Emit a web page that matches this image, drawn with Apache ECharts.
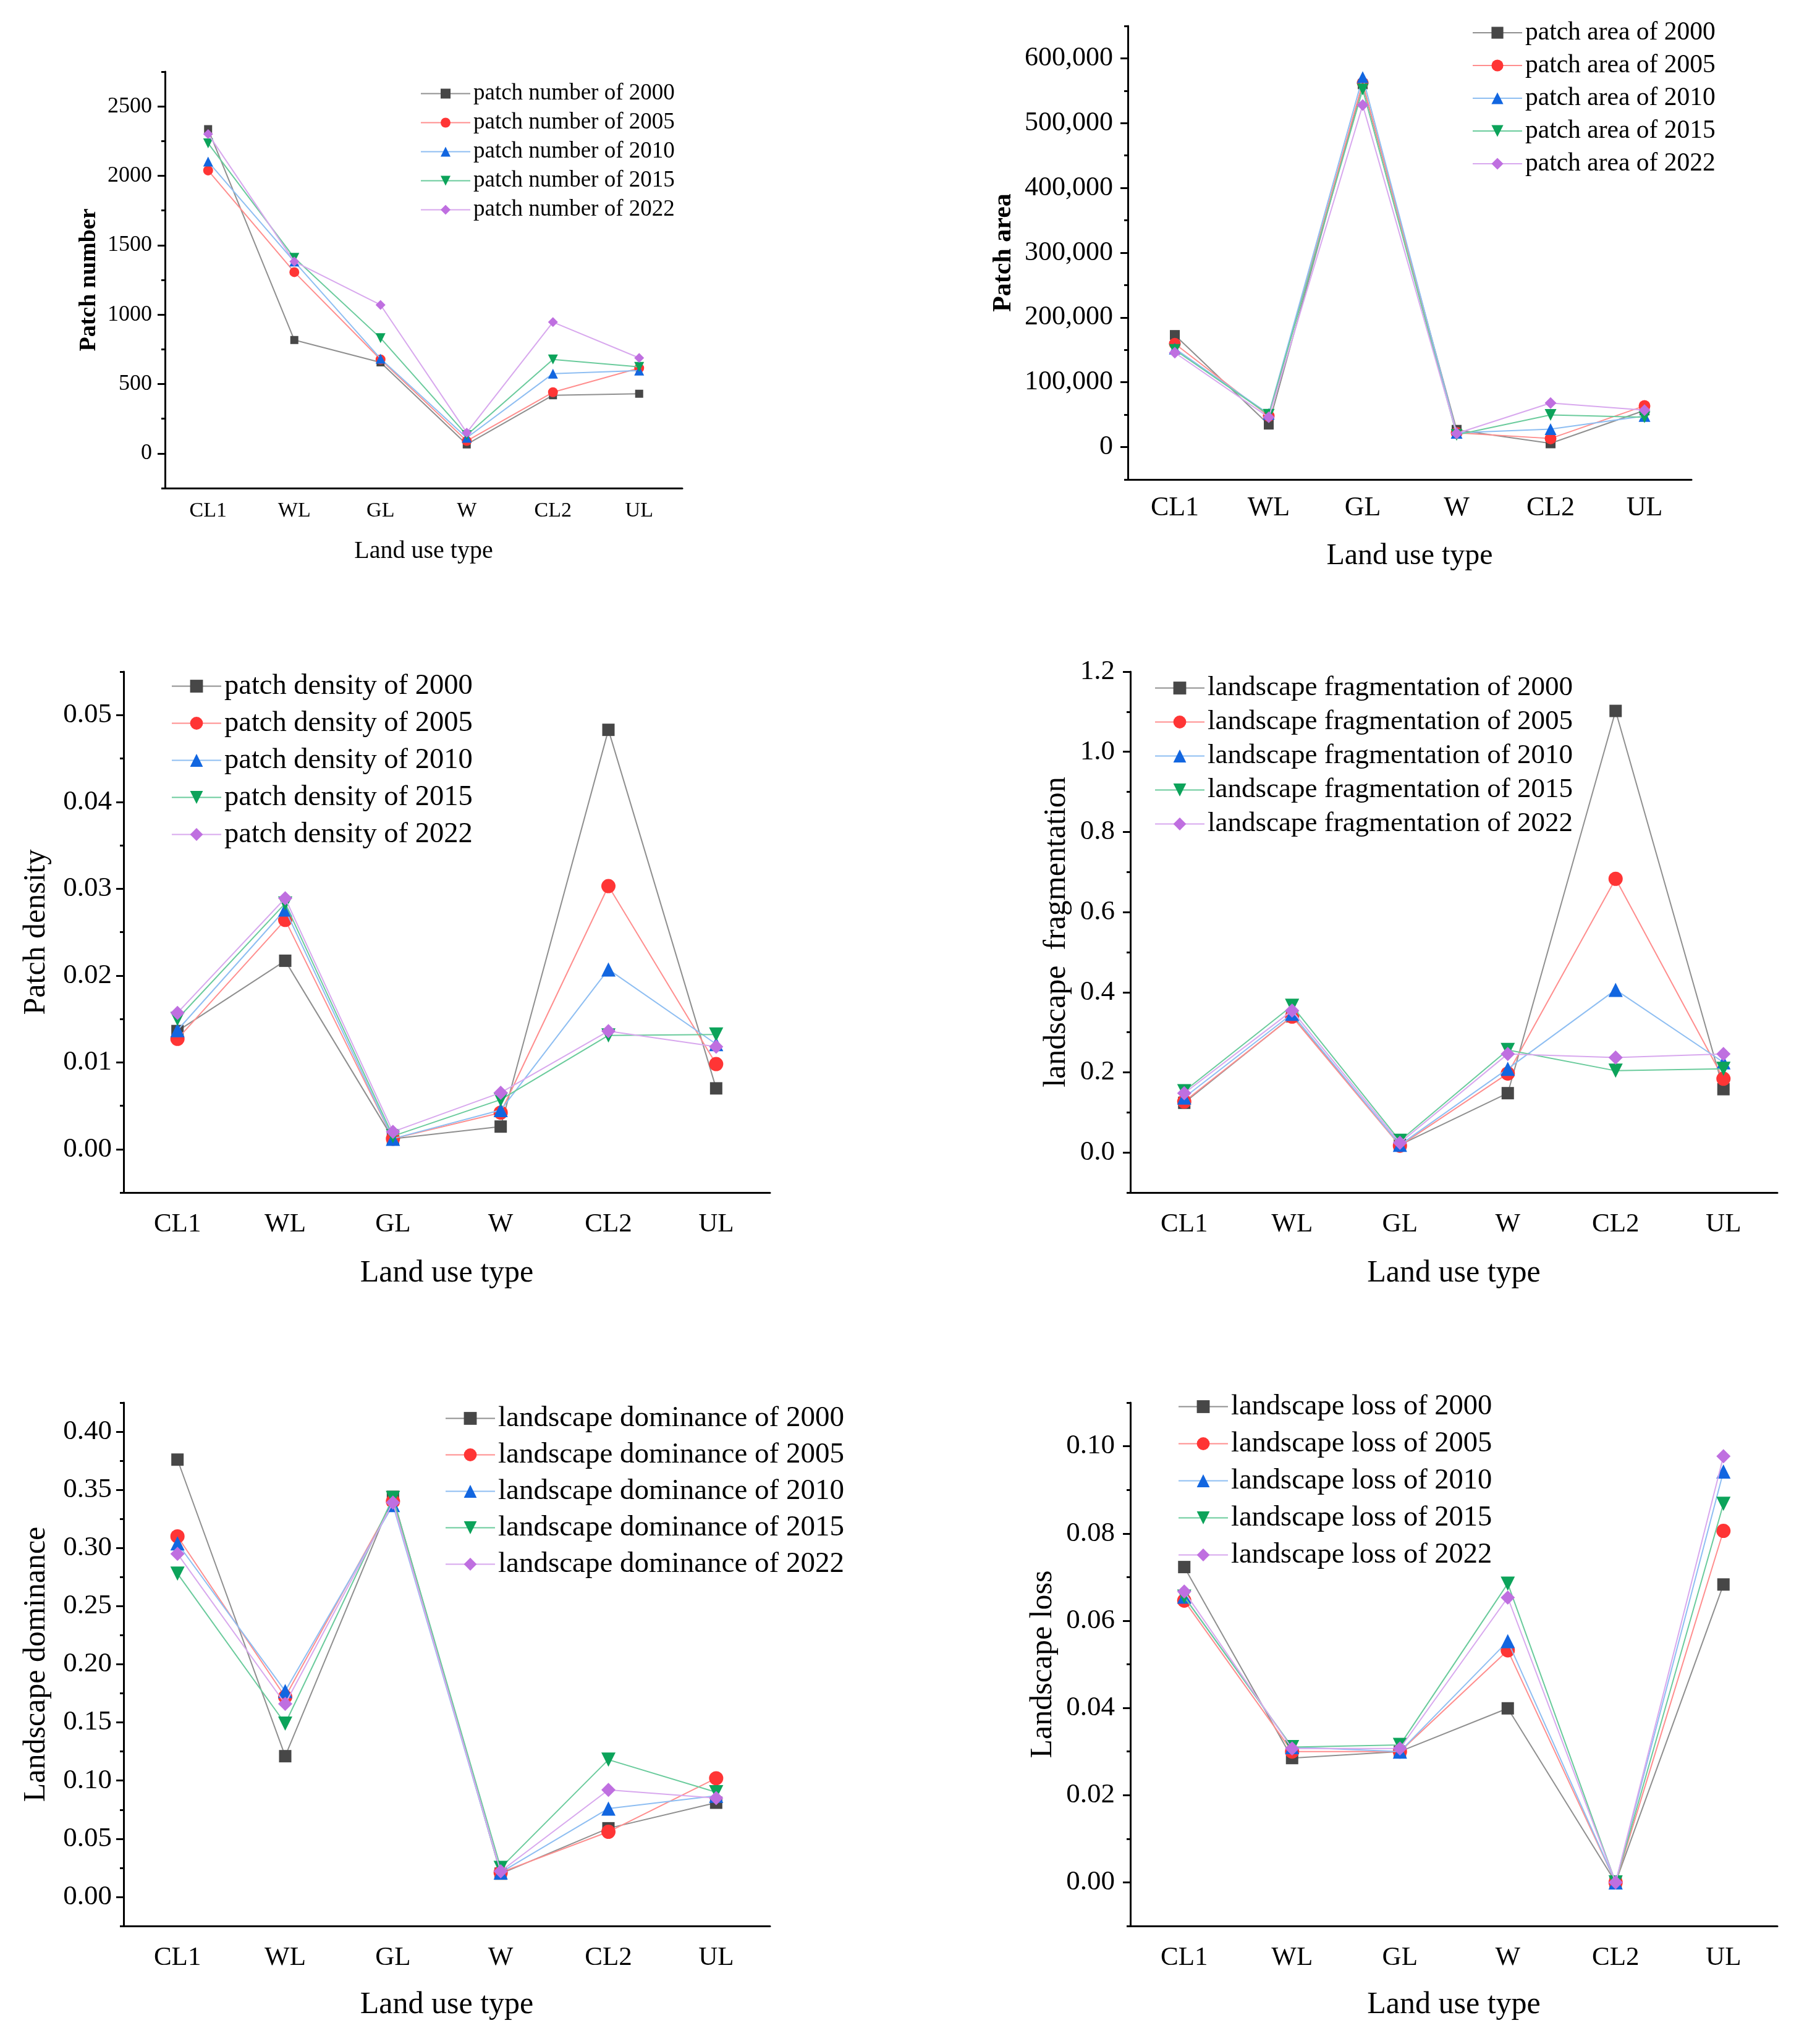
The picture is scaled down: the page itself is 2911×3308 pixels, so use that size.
<!DOCTYPE html>
<html>
<head>
<meta charset="utf-8">
<script src="https://cdn.jsdelivr.net/npm/echarts@6/dist/echarts.min.js"></script>
<style>
html, body { margin: 0; padding: 0; background: #fff; }
#main { width: 2911px; height: 3308px; }
</style>
</head>
<body>
<div id="main"></div>
<script>
var landTypes = ['CL1', 'WL', 'GL', 'W', 'CL2', 'UL'];
var years = ['2000', '2005', '2010', '2015', '2022'];

// one row per year, values per land type
var patchNumber = [
    [2336, 817, 656, 65, 419, 430],
    [2038, 1306, 677, 90, 441, 615],
    [2102, 1382, 683, 113, 575, 597],
    [2234, 1409, 831, 132, 677, 624],
    [2301, 1382, 1070, 150, 946, 688]
];
var patchArea = [
    [173000, 34700, 560000, 26600, 5800, 56600],
    [159500, 48000, 562000, 22000, 13300, 63600],
    [152000, 51000, 571000, 22000, 27700, 48000],
    [150000, 50000, 552000, 19000, 49700, 46000],
    [145700, 46000, 528000, 21000, 68000, 57000]
];
var patchDensity = [
    [0.0136, 0.0217, 0.0012, 0.0026, 0.0483, 0.0070],
    [0.0127, 0.0264, 0.0012, 0.0042, 0.0303, 0.0098],
    [0.0137, 0.0276, 0.0012, 0.0045, 0.0207, 0.0121],
    [0.0150, 0.0283, 0.0015, 0.0057, 0.0131, 0.0132],
    [0.0157, 0.0289, 0.0020, 0.0065, 0.0136, 0.0118]
];
var fragmentation = [
    [0.124, 0.340, 0.019, 0.148, 1.102, 0.158],
    [0.127, 0.339, 0.017, 0.197, 0.683, 0.184],
    [0.137, 0.346, 0.019, 0.209, 0.406, 0.225],
    [0.153, 0.366, 0.029, 0.256, 0.204, 0.209],
    [0.148, 0.354, 0.024, 0.246, 0.237, 0.246]
];
var dominance = [
    [0.376, 0.121, 0.344, 0.020, 0.059, 0.081],
    [0.310, 0.172, 0.340, 0.021, 0.056, 0.102],
    [0.304, 0.177, 0.337, 0.021, 0.076, 0.087],
    [0.278, 0.149, 0.343, 0.025, 0.118, 0.090],
    [0.295, 0.166, 0.339, 0.022, 0.092, 0.085]
];
var loss = [
    [0.0723, 0.0285, 0.0300, 0.0399, 0, 0.0683],
    [0.0646, 0.0300, 0.0300, 0.0532, 0, 0.0806],
    [0.0655, 0.0310, 0.0300, 0.0553, 0, 0.0942],
    [0.0655, 0.0310, 0.0315, 0.0685, 0, 0.0868],
    [0.0667, 0.0307, 0.0307, 0.0653, 0, 0.0977]
];

// tick labels (major) and minor tick positions
var numberTicks = [0, 500, 1000, 1500, 2000, 2500];
var numberMinor = [-250, 250, 750, 1250, 1750, 2250, 2750];
var areaTicks = [0, 100000, 200000, 300000, 400000, 500000, 600000];
var areaMinor = [-50000, 50000, 150000, 250000, 350000, 450000, 550000, 650000];
var densityTicks = [0, 0.01, 0.02, 0.03, 0.04, 0.05];
var densityMinor = [-0.005, 0.005, 0.015, 0.025, 0.035, 0.045, 0.055];
var fragTicks = [0, 0.2, 0.4, 0.6, 0.8, 1.0, 1.2];
var fragMinor = [-0.1, 0.1, 0.3, 0.5, 0.7, 0.9, 1.1];
var domTicks = [0, 0.05, 0.10, 0.15, 0.20, 0.25, 0.30, 0.35, 0.40];
var domMinor = [-0.025, 0.025, 0.075, 0.125, 0.175, 0.225, 0.275, 0.325, 0.375, 0.425];
var lossTicks = [0, 0.02, 0.04, 0.06, 0.08, 0.10];
var lossMinor = [-0.01, 0.01, 0.03, 0.05, 0.07, 0.09, 0.11];

var FONT = "'Liberation Serif', 'Times New Roman', serif";
var markColors = ['#474747', '#FF3535', '#1266E0', '#0CA35A', '#BF6FE0'];
var lineColors = ['#8f8f8f', '#FF8E8E', '#8EBEF2', '#6ACB9C', '#D8A8EE'];
var symbols = ['rect', 'circle', 'triangle', 'path://M0,0L10,0L5,8.66Z', 'diamond'];

function commaFmt(v) { return String(v).replace(/\B(?=(\d{3})+(?!\d))/g, ','); }

var panels = [
    { label: 'patch number', data: patchNumber, ticks: numberTicks, minor: numberMinor, min: -250, max: 2750,
      fmt: function (v) { return String(v); }, yName: 'Patch number', yBold: true,
      box: [267, 116, 1104, 790], tickFont: 36, xFont: 34, nameFont: 40, yNameFont: 38,
      xMargin: 20, yMargin: 21, xGap: 82, yGap: 104, sym: 16,
      legend: { left: 680, top: 133, font: 37, gap: 10, w: 80, h: 20 } },
    { label: 'patch area', data: patchArea, ticks: areaTicks, minor: areaMinor, min: -50000, max: 650000,
      fmt: commaFmt, yName: 'Patch area', yBold: true,
      box: [1825, 42, 2737, 776], tickFont: 44, xFont: 44, nameFont: 48, yNameFont: 42,
      xMargin: 24, yMargin: 24, xGap: 100, yGap: 180, sym: 19,
      legend: { left: 2382, top: 32, font: 41.5, gap: 11, w: 80, h: 24 } },
    { label: 'patch density', data: patchDensity, ticks: densityTicks, minor: densityMinor, min: -0.005, max: 0.055,
      fmt: function (v) { return v.toFixed(2); }, yName: 'Patch density', yBold: false,
      box: [200, 1087, 1246, 1930], tickFont: 45, xFont: 43, nameFont: 50, yNameFont: 50,
      xMargin: 30, yMargin: 19, xGap: 106, yGap: 116, sym: 23,
      legend: { left: 277, top: 1087, font: 46.5, gap: 13, w: 80, h: 26 } },
    { label: 'landscape fragmentation', data: fragmentation, ticks: fragTicks, minor: fragMinor, min: -0.1, max: 1.2,
      fmt: function (v) { return v.toFixed(1); }, yName: 'landscape  fragmentation', yBold: false,
      box: [1829, 1087, 2876, 1930], tickFont: 45, xFont: 43, nameFont: 50, yNameFont: 50,
      xMargin: 30, yMargin: 25, xGap: 106, yGap: 94, sym: 23,
      legend: { left: 1868, top: 1091, font: 45, gap: 10, w: 80, h: 26 } },
    { label: 'landscape dominance', data: dominance, ticks: domTicks, minor: domMinor, min: -0.025, max: 0.425,
      fmt: function (v) { return v.toFixed(2); }, yName: 'Landscape dominance', yBold: false,
      box: [200, 2270, 1246, 3117], tickFont: 45, xFont: 43, nameFont: 50, yNameFont: 50,
      xMargin: 30, yMargin: 19, xGap: 103, yGap: 116, sym: 23,
      legend: { left: 720, top: 2272, font: 47, gap: 12, w: 80, h: 26 } },
    { label: 'landscape loss', data: loss, ticks: lossTicks, minor: lossMinor, min: -0.01, max: 0.11,
      fmt: function (v) { return v.toFixed(2); }, yName: 'Landscape loss', yBold: false,
      box: [1829, 2270, 2876, 3117], tickFont: 45, xFont: 43, nameFont: 50, yNameFont: 50,
      xMargin: 30, yMargin: 25, xGap: 103, yGap: 116, sym: 23,
      legend: { left: 1906, top: 2253, font: 46.5, gap: 13, w: 80, h: 26 } }
];

var option = {
    backgroundColor: '#fff',
    animation: false,
    grid: [], xAxis: [], yAxis: [], legend: [], series: []
};

for (var i = 0; i < panels.length; i++) {
    var p = panels[i];
    var b = p.box;
    option.grid.push({
        left: b[0], top: b[1], width: b[2] - b[0], height: b[3] - b[1],
        containLabel: false, outerBoundsMode: 'none'
    });
    // main x axis: ticks under the labels
    option.xAxis.push({
        gridIndex: i, type: 'category', data: landTypes, boundaryGap: true, position: 'bottom',
        axisLine: { onZero: false, lineStyle: { color: '#000', width: 3 } },
        axisTick: { alignWithLabel: true, length: 12, lineStyle: { color: '#000', width: 3 } },
        axisLabel: { color: '#000', fontFamily: FONT, fontSize: p.xFont, margin: p.xMargin },
        splitLine: { show: false },
        name: 'Land use type', nameLocation: 'middle', nameGap: p.xGap,
        nameTextStyle: { color: '#000', fontFamily: FONT, fontSize: p.nameFont }
    });
    // minor x ticks between categories
    option.xAxis.push({
        gridIndex: i, type: 'category', data: landTypes, boundaryGap: true, position: 'bottom',
        axisLine: { show: false, onZero: false },
        axisTick: { alignWithLabel: false, length: 6, lineStyle: { color: '#000', width: 3 } },
        axisLabel: { show: false },
        splitLine: { show: false }
    });
    option.yAxis.push({
        gridIndex: i, type: 'value', min: p.min, max: p.max, position: 'left',
        axisLine: { show: true, onZero: false, lineStyle: { color: '#000', width: 3 } },
        axisTick: { show: true, length: 12, customValues: p.ticks, lineStyle: { color: '#000', width: 3 } },
        axisLabel: { color: '#000', fontFamily: FONT, fontSize: p.tickFont, margin: p.yMargin,
            customValues: p.ticks, formatter: p.fmt },
        splitLine: { show: false },
        name: p.yName, nameLocation: 'middle', nameGap: p.yGap,
        nameTextStyle: { color: '#000', fontFamily: FONT, fontSize: p.yNameFont,
            fontWeight: p.yBold ? 'bold' : 'normal' }
    });
    option.yAxis.push({
        gridIndex: i, type: 'value', min: p.min, max: p.max, position: 'left',
        axisLine: { show: false, onZero: false },
        axisTick: { show: true, length: 6, customValues: p.minor, lineStyle: { color: '#000', width: 3 } },
        axisLabel: { show: false },
        splitLine: { show: false }
    });

    var names = [];
    for (var j = 0; j < years.length; j++) {
        var nm = p.label + ' of ' + years[j];
        names.push(nm);
        option.series.push({
            type: 'line',
            name: nm,
            xAxisIndex: 2 * i,
            yAxisIndex: 2 * i,
            data: p.data[j],
            symbol: symbols[j],
            symbolSize: j === 0 ? p.sym - 3 : p.sym,
            showAllSymbol: true,
            itemStyle: { color: markColors[j] },
            lineStyle: { color: lineColors[j], width: 2 },
            z: 2 + j
        });
    }
    option.legend.push({
        data: names,
        orient: 'vertical',
        left: p.legend.left,
        top: p.legend.top,
        padding: 0,
        itemWidth: p.legend.w,
        itemHeight: p.legend.h,
        itemGap: p.legend.gap,
        selectedMode: false,
        textStyle: { color: '#000', fontFamily: FONT, fontSize: p.legend.font, lineHeight: p.legend.font }
    });
}

var myChart = echarts.init(document.getElementById('main'));
myChart.setOption(option);
</script>
</body>
</html>
